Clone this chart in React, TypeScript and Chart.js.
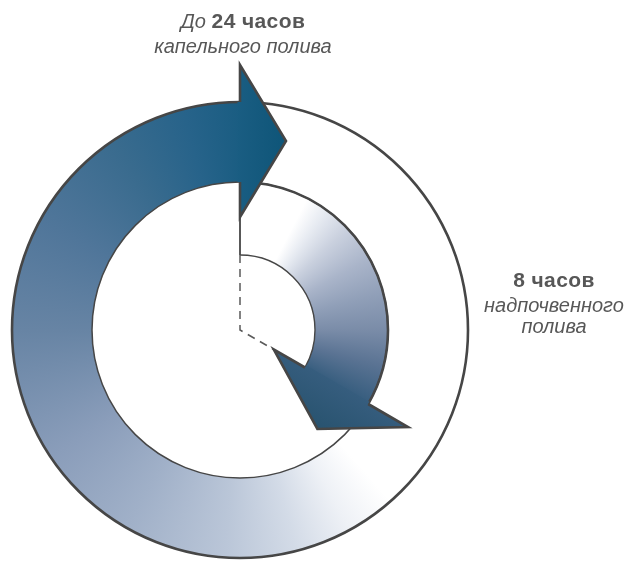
import React, { useEffect, useRef } from "react";
import { Chart, registerables } from "chart.js";

Chart.register(...registerables);

// ---- data ----
const categories = ["Капельный полив", "Надпочвенный полив"];
const totalHours = 24;
const dripHours = [24];            // outer arrow: up to 24 hours
const surfaceHours = [8, 16];      // inner arrow: 8 of 24 hours (rest empty)
const topLabel = { prefix: "До", value: "24 часов", caption: "капельного полива" };
const rightLabel = { value: "8 часов", caption1: "надпочвенного", caption2: "полива" };

// ---- styles ----
const FONT = '"Liberation Sans", Arial, Helvetica, sans-serif';
const TEXT_COLOR = "#575757";
const OUTLINE = "#464646";

const outerStops: [number, string][] = [
  [0.0, "#ffffff"],
  [0.385, "#ffffff"],
  [0.42, "#eef1f6"],
  [0.46, "#d3dbe7"],
  [0.51, "#bac6d8"],
  [0.583, "#a0b0c8"],
  [0.656, "#8a9dba"],
  [0.75, "#6784a4"],
  [0.83, "#50769a"],
  [0.906, "#396b8e"],
  [0.96, "#27638a"],
  [1.0, "#1a5d82"],
];
const innerStops: [number, string][] = [
  [0.0, "#ffffff"],
  [0.075, "#ffffff"],
  [0.1, "#e6eaf1"],
  [0.13, "#c9d0de"],
  [0.17, "#a9b4c9"],
  [0.21, "#909fb8"],
  [0.25, "#7a8ca8"],
  [0.29, "#5a7393"],
  [0.3334, "#365d7e"],
  [0.37, "#365d7e"],
  [0.38, "#ffffff"],
  [1.0, "#ffffff"],
];

function conic(chart: any, stops: [number, string][]) {
  const area = chart.chartArea;
  if (!area) return "#ffffff";
  const cx = (area.left + area.right) / 2;
  const cy = (area.top + area.bottom) / 2;
  const g = chart.ctx.createConicGradient(-Math.PI / 2, cx, cy);
  stops.forEach(([o, c]) => g.addColorStop(o, c));
  return g;
}

const P = (cx: number, cy: number, r: number, a: number) => [cx + r * Math.cos(a), cy + r * Math.sin(a)];

function drawHead(ctx: CanvasRenderingContext2D, cx: number, cy: number, a: number, rin: number, rout: number, extIn: number, extOut: number, len: number, c1: string, c2: string) {
  const tx = -Math.sin(a), ty = Math.cos(a); // clockwise tangent
  const bIn = P(cx, cy, rin - extIn, a);
  const bOut = P(cx, cy, rout + extOut, a);
  const mid = (rin - extIn + rout + extOut) / 2;
  const m = P(cx, cy, mid, a);
  const tip = [m[0] + tx * len, m[1] + ty * len];
  const eIn = P(cx, cy, rin, a);
  const eOut = P(cx, cy, rout, a);
  const back = 2.5;
  const g = ctx.createLinearGradient(m[0] - tx * back, m[1] - ty * back, tip[0], tip[1]);
  g.addColorStop(0, c1);
  g.addColorStop(1, c2);
  // fill (with a small overlap back into the body to hide the seam)
  ctx.beginPath();
  ctx.moveTo(eOut[0] - tx * back, eOut[1] - ty * back);
  ctx.lineTo(eOut[0], eOut[1]);
  ctx.lineTo(bOut[0], bOut[1]);
  ctx.lineTo(tip[0], tip[1]);
  ctx.lineTo(bIn[0], bIn[1]);
  ctx.lineTo(eIn[0], eIn[1]);
  ctx.lineTo(eIn[0] - tx * back, eIn[1] - ty * back);
  ctx.closePath();
  ctx.fillStyle = g;
  ctx.fill();
  // outline
  ctx.beginPath();
  ctx.moveTo(eOut[0], eOut[1]);
  ctx.lineTo(bOut[0], bOut[1]);
  ctx.lineTo(tip[0], tip[1]);
  ctx.lineTo(bIn[0], bIn[1]);
  ctx.lineTo(eIn[0], eIn[1]);
  ctx.lineJoin = "miter";
  ctx.strokeStyle = OUTLINE;
  ctx.lineWidth = 2.6;
  ctx.stroke();
}

const arrowsPlugin = {
  id: "cycleArrows",
  afterDatasetsDraw(chart: any) {
    const ctx: CanvasRenderingContext2D = chart.ctx;
    const outer = chart.getDatasetMeta(0).data[0] as any;
    const inner = chart.getDatasetMeta(1).data[0] as any;
    if (!outer || !inner) return;
    const cx = outer.x, cy = outer.y;
    const R = outer.outerRadius, r1 = outer.innerRadius, r0 = inner.innerRadius;
    const startI = inner.startAngle, endI = inner.endAngle, endO = outer.endAngle;
    ctx.save();
    ctx.strokeStyle = OUTLINE;
    // outer circle
    ctx.lineWidth = 2.6;
    ctx.beginPath();
    ctx.arc(cx, cy, R, 0, Math.PI * 2);
    ctx.stroke();
    // middle circle (thin) + inner arrow outer edge (thick)
    ctx.lineWidth = 1.5;
    ctx.beginPath();
    ctx.arc(cx, cy, r1, 0, Math.PI * 2);
    ctx.stroke();
    ctx.lineWidth = 2.6;
    ctx.beginPath();
    ctx.arc(cx, cy, r1, startI, endI);
    ctx.stroke();
    // inner arrow inner edge
    ctx.lineWidth = 1.4;
    ctx.beginPath();
    ctx.arc(cx, cy, r0, startI, endI);
    ctx.stroke();
    // inner arrow start edge
    ctx.lineWidth = 1.8;
    const s0 = P(cx, cy, r0, startI), s1 = P(cx, cy, r1, startI);
    ctx.beginPath();
    ctx.moveTo(s0[0], s0[1]);
    ctx.lineTo(s1[0], s1[1]);
    ctx.stroke();
    // dashed radii
    ctx.setLineDash([8, 6]);
    ctx.lineWidth = 1.5;
    ctx.strokeStyle = "#5a5a5a";
    const d1 = P(cx, cy, r0, startI);
    const d2 = P(cx, cy, r0 - 36, endI);
    ctx.beginPath();
    ctx.moveTo(d1[0], d1[1]);
    ctx.lineTo(cx, cy);
    ctx.lineTo(d2[0], d2[1]);
    ctx.stroke();
    ctx.setLineDash([]);
    // arrow heads
    drawHead(ctx, cx, cy, endO, r1, R, 35, 37, 46, "#1a5d82", "#0e5578");
    drawHead(ctx, cx, cy, endI, r0, r1, 36, 46, 47, "#365d7e", "#28536f");
    ctx.restore();
  },
};

export default function App() {
  const ref = useRef<HTMLCanvasElement | null>(null);
  useEffect(() => {
    if (!ref.current) return;
    const chart = new Chart(ref.current, {
      type: "doughnut",
      data: {
        labels: categories,
        datasets: [
          {
            label: categories[0],
            data: dripHours,
            weight: 80,
            borderWidth: 0,
            backgroundColor: (c: any) => conic(c.chart, outerStops),
          } as any,
          {
            label: categories[1],
            data: surfaceHours,
            weight: 73,
            borderWidth: 0,
            backgroundColor: (c: any) => (c.dataIndex === 0 ? conic(c.chart, innerStops) : "rgba(0,0,0,0)"),
          } as any,
        ],
      },
      options: {
        responsive: false,
        animation: false,
        events: [],
        cutout: 75,
        circumference: 360 * (dripHours[0] / totalHours),
        layout: { padding: { left: 12, top: 102, right: 158, bottom: 3 } },
        plugins: { legend: { display: false }, tooltip: { enabled: false }, title: { display: false } },
      } as any,
      plugins: [arrowsPlugin],
    });
    return () => chart.destroy();
  }, []);

  const line = (top: number, left: number, width: number, content: React.ReactNode, extra: React.CSSProperties = {}) => (
    <div
      style={{
        position: "absolute",
        top,
        left,
        width,
        textAlign: "center",
        fontFamily: FONT,
        fontSize: 20,
        lineHeight: "20px",
        color: TEXT_COLOR,
        whiteSpace: "nowrap",
        ...extra,
      }}
    >
      {content}
    </div>
  );

  const bold: React.CSSProperties = { fontWeight: "bold", fontSize: 21, letterSpacing: "0.4px" };

  return (
    <div style={{ position: "fixed", left: 0, top: 0, width: 626, height: 561, background: "#fff", overflow: "hidden" }}>
      <canvas ref={ref} width={626} height={561} style={{ position: "absolute", left: 0, top: 0, display: "block" }} />
      {line(11, 133, 220, (
        <>
          <span style={{ fontStyle: "italic" }}>{topLabel.prefix}</span>{" "}
          <span style={bold}>{topLabel.value}</span>
        </>
      ))}
      {line(36, 133, 220, topLabel.caption, { fontStyle: "italic" })}
      {line(270, 474, 160, rightLabel.value, bold)}
      {line(295, 474, 160, rightLabel.caption1, { fontStyle: "italic" })}
      {line(316, 474, 160, rightLabel.caption2, { fontStyle: "italic" })}
    </div>
  );
}
